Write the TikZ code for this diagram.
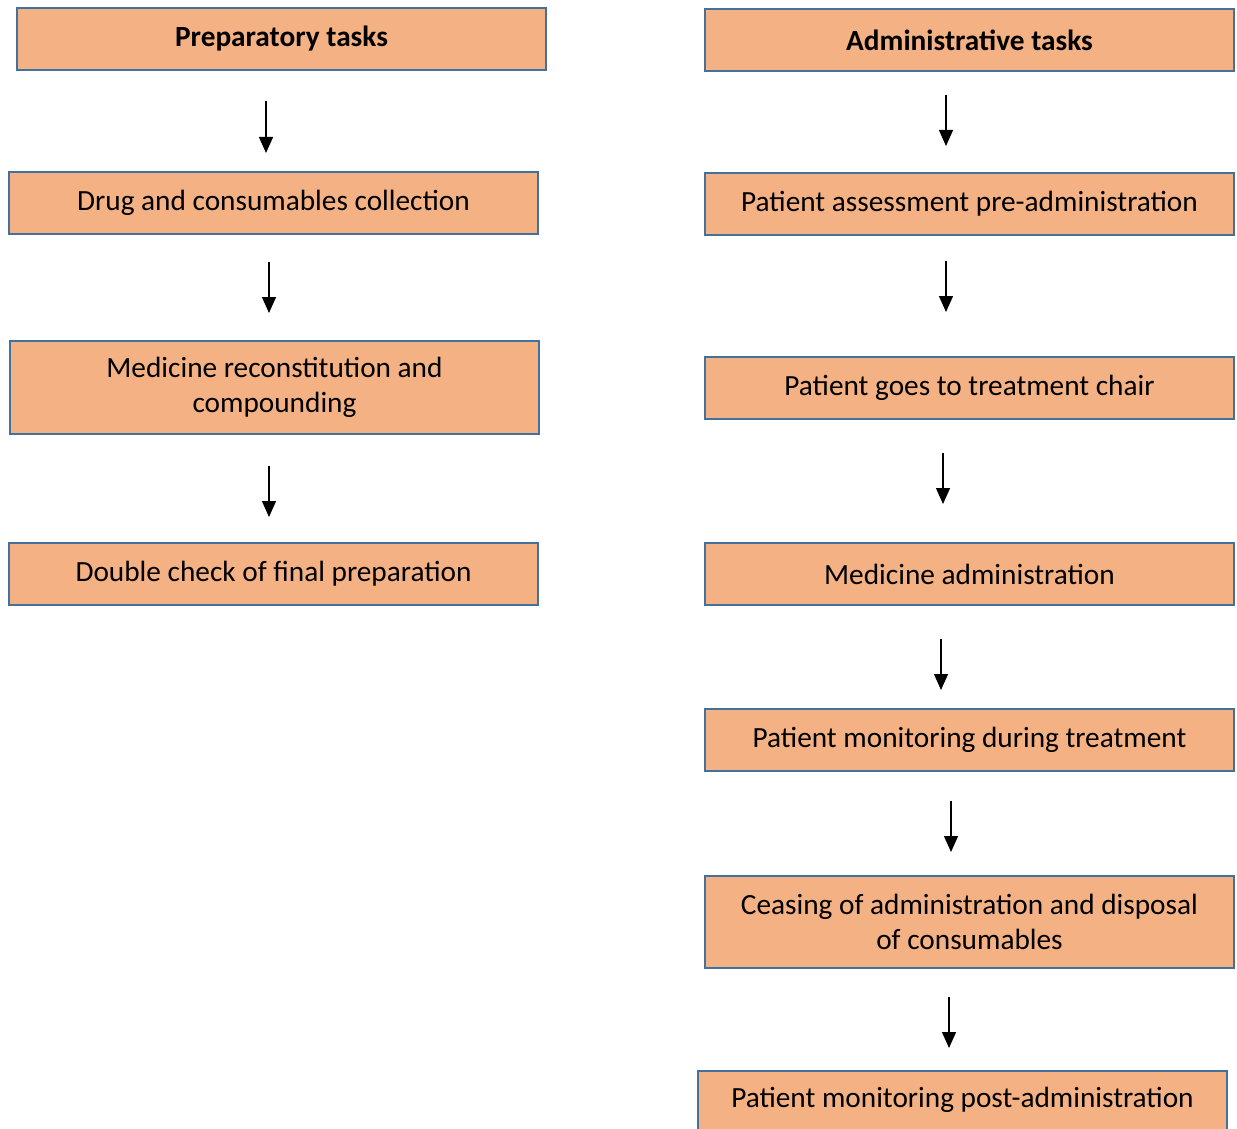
\documentclass[tikz,border=0pt]{standalone}
\usepackage{fontspec}
\setmainfont{Carlito}
\usetikzlibrary{arrows.meta}
\definecolor{boxfill}{HTML}{F4B183}
\definecolor{boxline}{HTML}{41719C}
\begin{document}
\begin{tikzpicture}[x=1pt,y=-1pt,
  taskbox/.style={draw=boxline,fill=boxfill,line width=2pt,minimum width=529pt,minimum height=62pt,inner sep=0pt,align=center,font=\fontsize{29.3}{35}\selectfont},
  flowarrow/.style={line width=1.3pt,-{Triangle[width=14pt,length=16pt]}}]
\useasboundingbox (0,0) rectangle (1237,1129);
\clip (0,0) rectangle (1237,1129);
% left column
\node[taskbox,font=\fontsize{29.3}{35}\selectfont\bfseries] (p0) at (281.5,39) {Preparatory tasks};
\node[taskbox] (p1) at (273.5,203) {Drug and consumables collection};
\node[taskbox,minimum height=93pt] (p2) at (274.5,387.5) {Medicine reconstitution and\\compounding};
\node[taskbox] (p3) at (273.5,574) {Double check of final preparation};
% right column
\node[taskbox,font=\fontsize{29.3}{35}\selectfont\bfseries] (a0) at (969.5,40) {Administrative tasks};
\node[taskbox] (a1) at (969.5,203.5) {Patient assessment pre-administration};
\node[taskbox] (a2) at (969.5,388) {Patient goes to treatment chair};
\node[taskbox] (a3) at (969.5,574) {Medicine administration};
\node[taskbox] (a4) at (969.5,740) {Patient monitoring during treatment};
\node[taskbox,minimum height=92pt] (a5) at (969.5,922) {Ceasing of administration and disposal\\of consumables};
\node[taskbox,minimum height=90pt,anchor=north] (a6) at (962.5,1070) {};
\node[font=\fontsize{29.3}{35}\selectfont] (a6t) at (962.5,1100) {Patient monitoring post-administration};
% arrows (free-standing)
\coordinate (l1s) at (266,101); \coordinate (l1e) at (266,153);
\coordinate (l2s) at (269,262); \coordinate (l2e) at (269,313);
\coordinate (l3s) at (269,466); \coordinate (l3e) at (269,517);
\coordinate (r1s) at (946,95);  \coordinate (r1e) at (946,146);
\coordinate (r2s) at (946,261); \coordinate (r2e) at (946,312);
\coordinate (r3s) at (943,453); \coordinate (r3e) at (943,504);
\coordinate (r4s) at (941,639); \coordinate (r4e) at (941,690);
\coordinate (r5s) at (951,801); \coordinate (r5e) at (951,852);
\coordinate (r6s) at (949,997); \coordinate (r6e) at (949,1048);
\foreach \a in {l1,l2,l3,r1,r2,r3,r4,r5,r6}{
  \draw[flowarrow] (\a s) -- (\a e);
}
\end{tikzpicture}
\end{document}
